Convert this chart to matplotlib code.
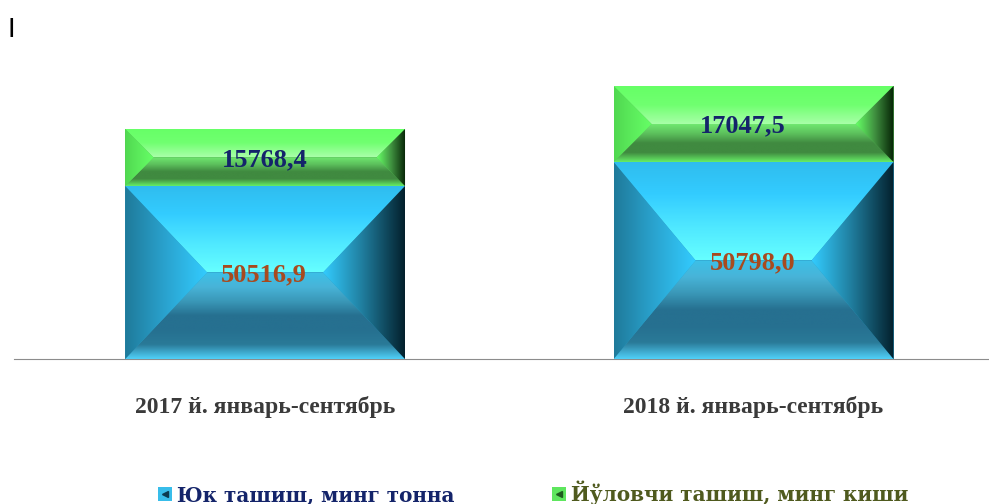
import matplotlib
matplotlib.use('Agg')
import matplotlib.pyplot as plt
import numpy as np
from matplotlib.colors import LinearSegmentedColormap
from matplotlib.legend_handler import HandlerTuple
from matplotlib.lines import Line2D
from matplotlib.patches import Patch, Polygon

plt.rcParams['font.family'] = ['Liberation Serif', 'DejaVu Serif']

categories = ['2017 й. январь-сентябрь', '2018 й. январь-сентябрь']
series_names = ['Юк ташиш, минг тонна', 'Йўловчи ташиш, минг киши']

# numbers printed on the bars
freight_labels = ['50516,9', '50798,0']
passenger_labels = ['15768,4', '17047,5']

# drawn bar heights, they are not to scale with the printed numbers
freight_heights = [173, 197]
passenger_heights = [57, 76]

blue = {
    'base': '#2f9cc4',
    'top': ['#2fbcee', '#33ccff', '#4fe8ff', '#66ffff'],
    'bottom': ['#3cc0e8', '#48b4d8', '#3a98b8', '#267090', '#267090', '#2a7a98', '#50d0f8'],
    'left': ['#1f7a9a', '#2aa4d0', '#33ccff'],
    'right': ['#33ccff', '#1f7a9a', '#03202c'],
}
green = {
    'base': '#5cc05c',
    'top': ['#66ff66', '#70ff70', '#a8ffa8'],
    'bottom': ['#70e870', '#5cc05c', '#408a40', '#408a40', '#66ee66'],
    'left': ['#50d850', '#5cec5c', '#66ff66'],
    'right': ['#66ff66', '#3f8f3f', '#052205'],
}


def facet(ax, corners, colors, vertical):
    # one side of the bevel: a gradient clipped to a polygon
    xs = [c[0] for c in corners]
    ys = [c[1] for c in corners]
    cmap = LinearSegmentedColormap.from_list('f', colors)
    grad = np.linspace(0, 1, 256)
    grad = grad.reshape(-1, 1) if vertical else grad.reshape(1, -1)
    im = ax.imshow(grad, cmap=cmap, aspect='auto', origin='upper',
                   extent=(min(xs), max(xs), min(ys), max(ys)), zorder=2)
    poly = Polygon(corners, closed=True, transform=ax.transData, fc='none', ec='none')
    ax.add_patch(poly)
    im.set_clip_path(poly)


def bevel_bar(ax, x, bottom, height, width, colors):
    ax.bar(x, height, width, bottom=bottom, color=colors['base'], zorder=1.5)
    x0, x1 = x - width / 2, x + width / 2
    y0, y1 = bottom, bottom + height
    ym = bottom + height / 2
    # sideways depth of the bevel in x units, limited on the tall bars
    dx = min(height / 2, 82) * x_per_px
    facet(ax, [(x0, y1), (x1, y1), (x1 - dx, ym), (x0 + dx, ym)], colors['top'], True)
    facet(ax, [(x0, y0), (x1, y0), (x1 - dx, ym), (x0 + dx, ym)], colors['bottom'], True)
    facet(ax, [(x0, y0), (x0, y1), (x0 + dx, ym)], colors['left'], False)
    facet(ax, [(x1, y0), (x1, y1), (x1 - dx, ym)], colors['right'], False)


fig = plt.figure(figsize=(9.89, 5.04), dpi=100)
ax = fig.add_axes([14 / 989, (504 - 359) / 504, 975 / 989, 300 / 504])

xlim = (-0.514, 1.482)
x_per_px = (xlim[1] - xlim[0]) / 975
positions = np.arange(len(categories))
bar_width = 0.573

# the upper 2018 label sits off centre in the original
upper_label_shift = [0, -11 * x_per_px]

for i, x in enumerate(positions):
    bevel_bar(ax, x, 0, freight_heights[i], bar_width, blue)
    bevel_bar(ax, x, freight_heights[i], passenger_heights[i], bar_width, green)
    ax.text(x - 0.002, freight_heights[i] / 2 - 2, freight_labels[i], ha='center', va='center',
            fontsize=19, fontweight='bold', color='#a84a1e', zorder=3)
    ax.text(x + upper_label_shift[i], freight_heights[i] + passenger_heights[i] / 2 - 2,
            passenger_labels[i], ha='center', va='center', fontsize=19, fontweight='bold',
            color='#14246a', zorder=3)

ax.set_xlim(xlim)
ax.set_ylim(0, 300)
ax.set_yticks([])
ax.set_xticks(positions)
ax.set_xticklabels(categories, fontsize=17, fontweight='bold', color='#3a3a3a')
ax.tick_params(axis='x', length=0, pad=27)
for side in ['top', 'left', 'right']:
    ax.spines[side].set_visible(False)
ax.spines['bottom'].set_color('#8c8c8c')
ax.spines['bottom'].set_zorder(1)

handles = [
    (Patch(fc='#38bdea'), Line2D([], [], ls='', marker='<', ms=5, color='#0b3a50')),
    (Patch(fc='#5ee65e'), Line2D([], [], ls='', marker='<', ms=5, color='#1e5a1e')),
]
fig.legend(handles, series_names, handler_map={tuple: HandlerTuple(ndivide=1, pad=0)},
           loc='center', bbox_to_anchor=(533 / 989, 1 - 493 / 504), ncol=2, frameon=False,
           prop={'family': 'DejaVu Serif', 'size': 14.4, 'weight': 'bold'},
           labelcolor=['#14246a', '#4f5a1e'],
           handlelength=0.7, handleheight=0.7, handletextpad=0.25, columnspacing=4.9,
           borderpad=0)

fig.text(11 / 989, 1 - 30 / 504, 'I', family='Liberation Sans', fontsize=20,
         ha='center', va='center', color='black')

plt.savefig('out.png', dpi=100)
plt.close()
